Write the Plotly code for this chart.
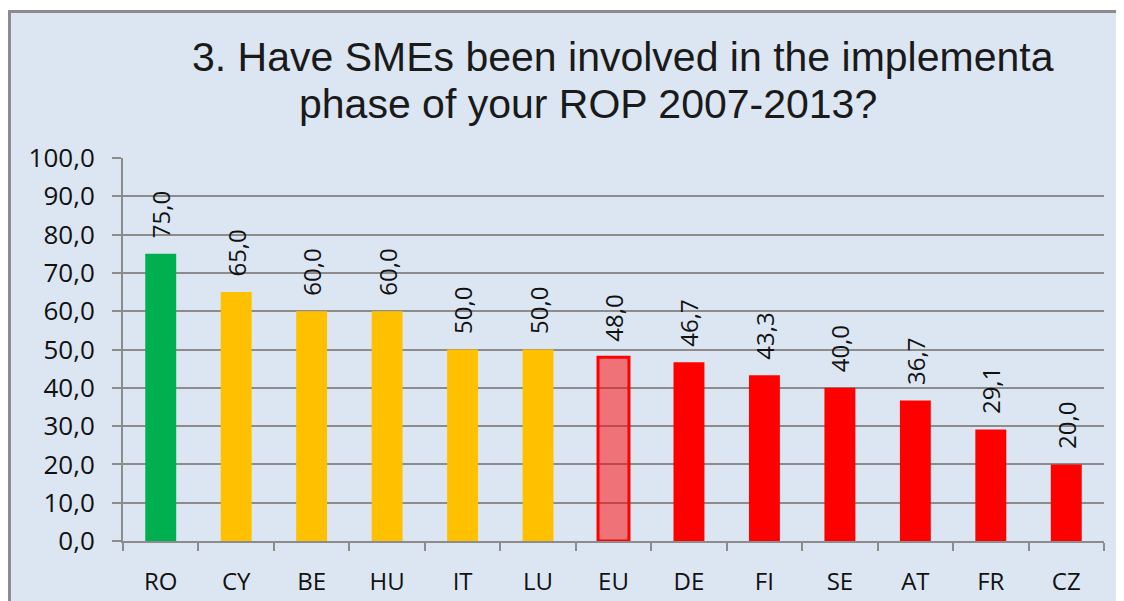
import plotly.graph_objects as go

countries = ["RO", "CY", "BE", "HU", "IT", "LU", "EU", "DE", "FI", "SE", "AT", "FR", "CZ"]
values = [75.0, 65.0, 60.0, 60.0, 50.0, 50.0, 48.0, 46.7, 43.3, 40.0, 36.7, 29.1, 20.0]
bar_colors = ["#00B050"] + ["#FFC000"] * 5 + ["rgba(255,0,0,0.5)"] + ["#FF0000"] * 6
line_colors = ["#00B050"] + ["#FFC000"] * 5 + ["#FF0000"] * 7
line_widths = [0] * 6 + [3] + [0] * 6

title_line1 = "3. Have SMEs been involved in the implementa"
title_line2 = "phase of your ROP 2007-2013?"

# page body has an 8px margin, so work in page pixels and shift
OFF = 8
W, H = 1124 - OFF, 601 - OFF
L, R, T, B = 123 - OFF, 20, 158 - OFF, 60
pw, ph = W - L - R, H - T - B


def px_x(x):
    return (x - OFF - L) / pw


def px_y(y):
    return (H - B - (y - OFF)) / ph


fig = go.Figure()
fig.add_trace(go.Bar(
    x=countries, y=values, width=0.41,
    marker=dict(color=bar_colors, line=dict(color=line_colors, width=line_widths)),
    text=["\u00a0\u00a0" + f"{v:.1f}".replace(".", ",") for v in values],
    textposition="outside", textangle=-90, cliponaxis=False, constraintext="none",
    textfont=dict(family="Open Sans", size=24, color="#111"),
))

# outer blue frame
fig.add_shape(type="rect", xref="paper", yref="paper", layer="below",
              x0=px_x(9.5), x1=px_x(1140), y0=px_y(620), y1=px_y(11.5),
              fillcolor="#DCE6F2", line=dict(color="#8C8C8C", width=3))

fig.add_annotation(text=title_line1, xref="paper", yref="paper", x=px_x(623), y=px_y(57),
                   showarrow=False, xanchor="center", yanchor="middle",
                   font=dict(family="Liberation Sans", size=41, color="#1a1a1a"))
fig.add_annotation(text=title_line2, xref="paper", yref="paper", x=px_x(588), y=px_y(104),
                   showarrow=False, xanchor="center", yanchor="middle",
                   font=dict(family="Liberation Sans", size=41, color="#1a1a1a"))

fig.update_layout(
    width=W, height=H,
    margin=dict(l=L, r=R, t=T, b=B),
    paper_bgcolor="white", plot_bgcolor="#EEECE1",
    separators=", ",
    showlegend=False, bargap=0.59,
    font=dict(family="Open Sans", size=24, color="#111"),
)
fig.update_yaxes(range=[0, 100], dtick=10, tickformat=".1f", automargin=False,
                 showgrid=True, gridcolor="#8C8C8C", gridwidth=2,
                 showline=True, linecolor="#8C8C8C", linewidth=2,
                 ticks="outside", ticklen=9, tickcolor="#8C8C8C", tickwidth=2,
                 ticklabelstandoff=12,
                 zeroline=False, tickfont=dict(size=26, color="#111"))
fig.update_xaxes(showline=True, linecolor="#8C8C8C", linewidth=2, automargin=False,
                 ticks="outside", tickson="boundaries", ticklen=8,
                 tickcolor="#8C8C8C", tickwidth=2, ticklabelstandoff=18,
                 tickfont=dict(size=24, color="#111"))

fig.write_html("out.html")
